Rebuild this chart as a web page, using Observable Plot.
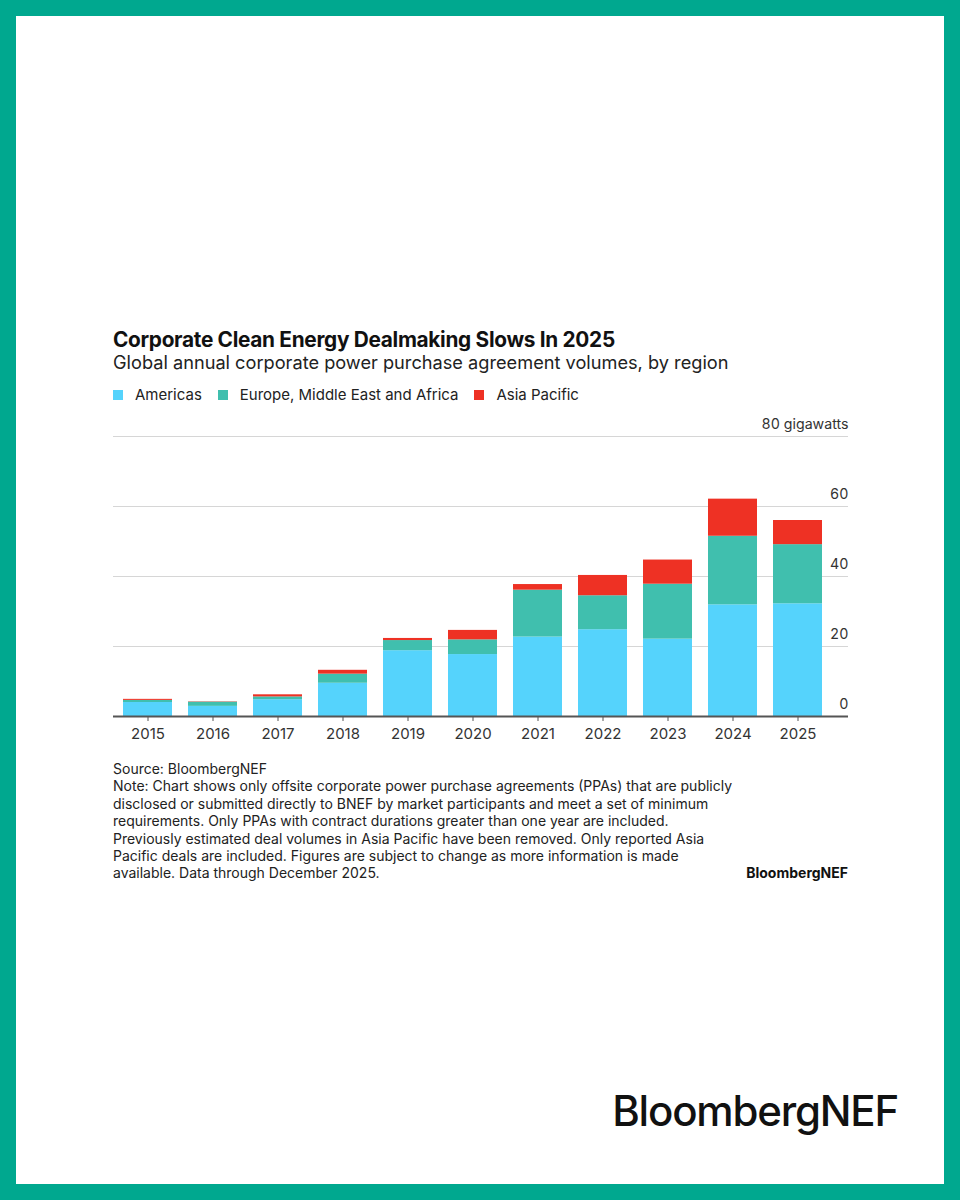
<!DOCTYPE html>
<html>
<head>
<meta charset="utf-8">
<script src="https://cdn.jsdelivr.net/npm/d3@7"></script>
<script src="https://cdn.jsdelivr.net/npm/@observablehq/plot@0.6"></script>
<style>
  html, body { margin: 0; padding: 0; background: #fff; }
  #frame { position: relative; width: 960px; height: 1200px; box-sizing: border-box; border: 16px solid #00a88f; background: #fff; font-family: Inter, "Noto Sans", sans-serif; color: #111; overflow: hidden; }
  .abs { position: absolute; }
  #title { left: 97px; top: 312px; font-size: 20.8px; font-weight: 700; line-height: 24px; letter-spacing: -0.3px; color: #111; white-space: nowrap; }
  #subtitle { left: 97px; top: 335px; font-size: 18.2px; font-weight: 400; line-height: 22px; color: #222; white-space: nowrap; }
  #legend { left: 97px; top: 368px; font-size: 15px; line-height: 22px; color: #222; display: flex; white-space: nowrap; }
  #legend .item { display: flex; align-items: center; margin-right: 16px; }
  #legend .sw { width: 10px; height: 10px; margin-right: 12px; }
  #chart { left: 97px; top: 394px; }
  #notes { left: 97px; top: 744px; width: 628px; font-size: 14px; line-height: 17.4px; color: #222; }
  #smalllogo { right: 96px; top: 848px; font-size: 14px; font-weight: 700; line-height: 17.4px; color: #111; }
  #biglogo { right: 46px; top: 1071px; font-size: 42px; font-weight: 500; letter-spacing: -1.2px; line-height: 48px; color: #111; }
</style>
</head>
<body>
<div id="frame">
  <div id="title" class="abs">Corporate Clean Energy Dealmaking Slows In 2025</div>
  <div id="subtitle" class="abs">Global annual corporate power purchase agreement volumes, by region</div>
  <div id="legend" class="abs"></div>
  <div id="chart" class="abs"></div>
  <div id="notes" class="abs">Source: BloombergNEF<br>Note: Chart shows only offsite corporate power purchase agreements (PPAs) that are publicly disclosed or submitted directly to BNEF by market participants and meet a set of minimum requirements. Only PPAs with contract durations greater than one year are included. Previously estimated deal volumes in Asia Pacific have been removed. Only reported Asia Pacific deals are included. Figures are subject to change as more information is made available. Data through December 2025.</div>
  <div id="smalllogo" class="abs">BloombergNEF</div>
  <div id="biglogo" class="abs">BloombergNEF</div>
</div>
<script>
const years = ["2015","2016","2017","2018","2019","2020","2021","2022","2023","2024","2025"];
const regions = ["Americas", "Europe, Middle East and Africa", "Asia Pacific"];
const colors = ["#55d3fc", "#40bfae", "#ee3124"];
const americas = [4.0, 2.9, 4.8, 9.5, 18.8, 17.7, 22.7, 24.8, 22.1, 31.9, 32.2];
const emea     = [0.6, 1.2, 0.8, 2.6, 2.9, 4.2, 13.4, 9.7, 15.7, 19.6, 16.9];
const apac     = [0.3, 0.1, 0.6, 1.1, 0.6, 2.7, 1.6, 5.8, 6.9, 10.6, 6.9];
const yTicks = [0, 20, 40, 60, 80];
const yUnit = "gigawatts";

const series = [americas, emea, apac];
const data = [];
years.forEach((yr, i) => {
  regions.forEach((r, j) => data.push({year: yr, region: r, value: series[j][i]}));
});

// legend
const leg = document.getElementById("legend");
regions.forEach((r, j) => {
  const it = document.createElement("div");
  it.className = "item";
  const sw = document.createElement("span");
  sw.className = "sw";
  sw.style.background = colors[j];
  const t = document.createElement("span");
  t.textContent = r;
  it.appendChild(sw); it.appendChild(t);
  leg.appendChild(it);
});

const W = 735;
const chart = Plot.plot({
  width: W,
  height: 340,
  marginTop: 26,
  marginBottom: 34,
  marginLeft: 0,
  marginRight: 0,
  style: {fontFamily: "Inter, 'Noto Sans', sans-serif", fontSize: "14px", color: "#333", background: "transparent", overflow: "visible"},
  x: {domain: years, range: [0, 718], paddingInner: 0.25, paddingOuter: 0.125, axis: null},
  y: {domain: [0, 80], axis: null},
  color: {domain: regions, range: colors},
  marks: [
    Plot.gridY(yTicks.filter(d => d > 0), {stroke: "#d6d6d6", strokeOpacity: 1, strokeWidth: 1}),
    Plot.barY(data, {x: "year", y: "value", fill: "region", order: regions}),
    Plot.ruleY([0], {stroke: "#555", strokeWidth: 2}),
    Plot.axisX({tickSize: 5, tickPadding: 7, stroke: "#555", fill: "#333", fontSize: 15, label: null}),
    Plot.axisY({anchor: "right", ticks: yTicks, tickSize: 0, tickPadding: 0, textAnchor: "end", dy: -12, fill: "#333", fontSize: 14.2, label: null,
      tickFormat: d => d === 80 ? `${d} ${yUnit}` : String(d)})
  ]
});
document.getElementById("chart").appendChild(chart);
</script>
</body>
</html>
